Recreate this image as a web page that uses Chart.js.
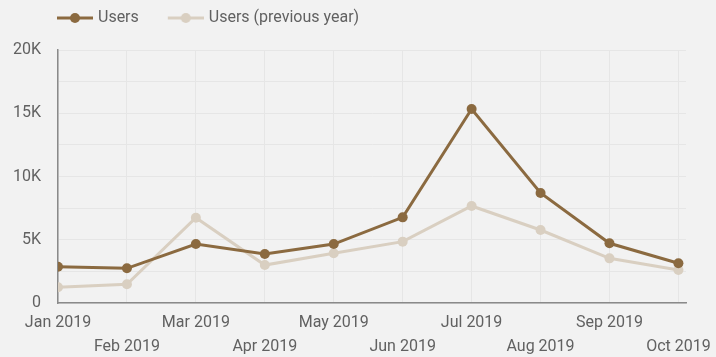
<!DOCTYPE html>
<html>
<head>
<meta charset="utf-8">
<script src="https://cdn.jsdelivr.net/npm/chart.js@4"></script>
<style>
  html, body { margin: 0; padding: 0; background: #f2f2f2; }
  #wrap { width: 716px; height: 357px; }
</style>
</head>
<body>
<div id="wrap"><canvas id="myChart" width="716" height="357"></canvas></div>
<script>
// chart data
const months = ['Jan 2019', 'Feb 2019', 'Mar 2019', 'Apr 2019', 'May 2019',
  'Jun 2019', 'Jul 2019', 'Aug 2019', 'Sep 2019', 'Oct 2019'];
const users = [2870, 2740, 4660, 3870, 4660, 6770, 15340, 8700, 4720, 3140];
const usersPrevYear = [1240, 1480, 6740, 3000, 3930, 4850, 7670, 5770, 3530, 2610];
const yLabels = ['0', '5K', '10K', '15K', '20K'];

const brown = '#8b6a40';
const beige = '#d9cfc1';
const textColor = '#616161';

// little "line with a dot" legend symbol
function legendSymbol(color) {
  const c = document.createElement('canvas');
  c.width = 58;
  c.height = 16;
  const g = c.getContext('2d');
  g.strokeStyle = color;
  g.lineWidth = 3;
  g.beginPath();
  g.moveTo(22, 8);
  g.lineTo(58, 8);
  g.stroke();
  g.fillStyle = color;
  g.beginPath();
  g.arc(40, 8, 5, 0, Math.PI * 2);
  g.fill();
  return c;
}
const symbols = [legendSymbol(brown), legendSymbol(beige)];

// push the plot down below the legend
const legendSpacer = {
  id: 'legendSpacer',
  beforeInit(chart) {
    const fit = chart.legend.fit;
    chart.legend.fit = function () {
      fit.call(this);
      this.height += 14;
    };
  }
};

const ctx = document.getElementById('myChart').getContext('2d');
new Chart(ctx, {
  type: 'line',
  data: {
    datasets: [{
      label: 'Users',
      data: users.map((v, i) => ({ x: i, y: v })),
      borderColor: brown,
      backgroundColor: brown,
      borderWidth: 3,
      pointRadius: 5,
      pointBorderWidth: 0,
      tension: 0
    }, {
      label: 'Users (previous year)',
      data: usersPrevYear.map((v, i) => ({ x: i, y: v })),
      borderColor: beige,
      backgroundColor: beige,
      borderWidth: 3,
      pointRadius: 5,
      pointBorderWidth: 0,
      tension: 0
    }]
  },
  options: {
    responsive: false,
    animation: false,
    layout: { padding: { left: 28, right: 30, top: 0, bottom: 0 } },
    plugins: {
      tooltip: { enabled: false },
      legend: {
        position: 'top',
        align: 'start',
        labels: {
          usePointStyle: true,
          pointStyleWidth: 52,
          padding: 10,
          color: textColor,
          font: { family: 'Roboto', size: 16 },
          generateLabels(chart) {
            const items = Chart.defaults.plugins.legend.labels.generateLabels(chart);
            items.forEach((it, i) => { it.pointStyle = symbols[i]; });
            return items;
          }
        }
      }
    },
    scales: {
      x: {
        type: 'linear',
        min: 0,
        max: 9.11,
        grid: { color: '#e6e6e6', drawTicks: false },
        border: { color: '#8a8a8a', width: 1.5 },
        ticks: {
          stepSize: 1,
          includeBounds: false,
          autoSkip: false,
          maxRotation: 0,
          padding: 8,
          color: textColor,
          font: { family: 'Roboto', size: 16, lineHeight: 1.5 },
          callback: (v) => {
            const m = months[v];
            if (m === undefined) return '';
            return v % 2 === 0 ? [m, ''] : ['', m];
          }
        },
        afterFit(s) {
          s.height = 54;
          s.paddingLeft = 0;
          s.paddingRight = 0;
        }
      },
      y: {
        min: 0,
        max: 20000,
        grid: { color: '#e6e6e6', drawTicks: false },
        border: { color: '#8a8a8a', width: 1.5 },
        ticks: {
          stepSize: 2500,
          padding: 17,
          color: textColor,
          font: { family: 'Roboto', size: 16 },
          callback: (v) => (v % 5000 === 0 ? yLabels[v / 5000] : '')
        },
        afterFit(s) {
          s.width = 30;
          // labels are wider than the axis box, so don't clip them to it
          s._computeLabelArea = () => undefined;
        }
      }
    }
  },
  plugins: [legendSpacer]
});
</script>
</body>
</html>
